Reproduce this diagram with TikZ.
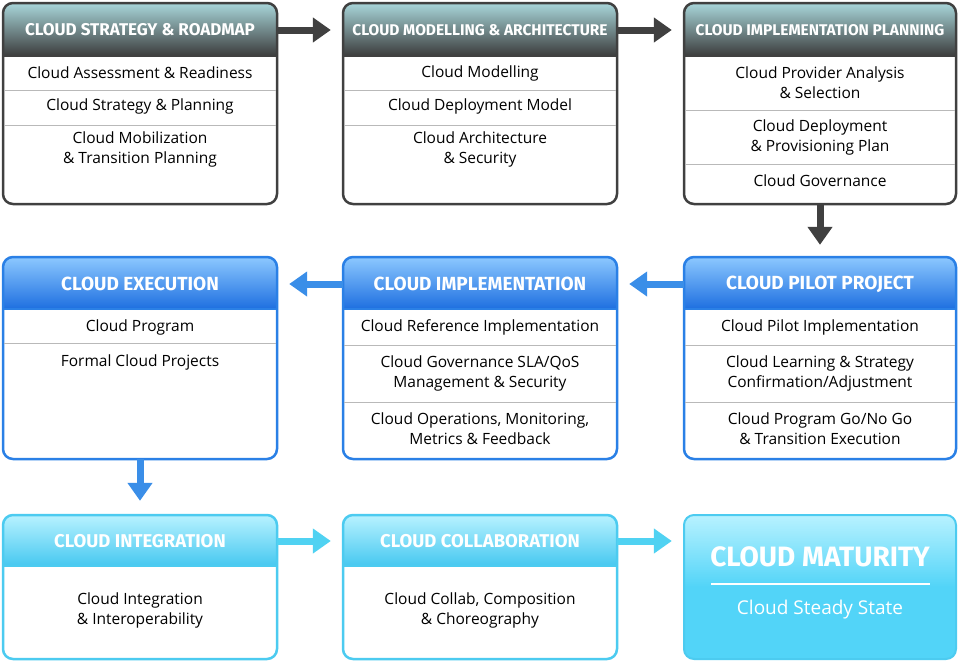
\documentclass[tikz,border=0pt]{standalone}
\usepackage{fontspec}
\setmainfont{Open Sans}
\newfontfamily\hdf{Fira Sans}
\usetikzlibrary{arrows.meta}
\definecolor{gb}{HTML}{404040}
\definecolor{gt}{HTML}{A8D6DA}
\definecolor{gm}{HTML}{3C3C3C}
\definecolor{bb}{HTML}{2A80E6}
\definecolor{bt}{HTML}{8CC8FF}
\definecolor{bm}{HTML}{1E6FE0}
\definecolor{lb}{HTML}{4CCBF0}
\definecolor{lt}{HTML}{B8F2FF}
\definecolor{lm}{HTML}{46C8F0}
\definecolor{lf}{HTML}{52D4F8}
\definecolor{ab}{HTML}{3A8EE8}
\definecolor{al}{HTML}{50D2F2}
\tikzset{
  item/.style={font=\fontsize{15.5}{20}\selectfont, align=center, text=black},
  head/.style={font=\hdf\bfseries\fontsize{17}{18}\selectfont, text=white},
  sep/.style={draw=gray!55, line width=1pt},
  arr/.style={line width=7pt, -{Triangle[width=24pt,length=18pt]}},
  frame/.style={line width=2.5pt, rounded corners=10pt},
}
% \bx{name}{x1}{y1}{x2}{y2}{headbottom}{border}{topcol}{botcol}
\newcommand{\bx}[9]{%
  \begin{scope}
    \clip[rounded corners=10pt] (#2,#3) rectangle (#4,#5);
    \fill[white] (#2,#3) rectangle (#4,#5);
    \shade[top color=#8, bottom color=#9] (#2,#3) rectangle (#4,#6);
  \end{scope}
  \draw[frame, draw=#7] (#2,#3) rectangle (#4,#5);
  \draw[line width=1.5pt, draw=#7] (#2,#6) -- (#4,#6);
  \node[inner sep=0pt, minimum width={(#4-#2)*1pt}, minimum height={(#5-#3)*1pt}] (#1) at ({(#2+#4)/2},{(#3+#5)/2}) {};
}
\begin{document}
\begin{tikzpicture}[x=1pt,y=-1pt]
\fill[white] (0,0) rectangle (960,662);
\useasboundingbox (0,0) rectangle (960,662);
% row 1
\bx{b1}{3}{3}{277}{204}{56}{gb}{gt}{gm}
\bx{b2}{343}{3}{617}{204}{56}{gb}{gt}{gm}
\bx{b3}{684}{3}{956}{204}{56}{gb}{gt}{gm}
\node[head] (h1) at (140,30) {CLOUD STRATEGY \& ROADMAP};
\node[head] (h2) at (480,30) {\fontsize{15.5}{17}\selectfont CLOUD MODELLING \& ARCHITECTURE};
\node[head] (h3) at (820,30) {\fontsize{15.5}{17}\selectfont CLOUD IMPLEMENTATION PLANNING};
\foreach \x/\a/\b in {3/277,343/617}{\draw[sep] (\x+1,90)--(\a-1,90); \draw[sep] (\x+1,125)--(\a-1,125);}
\draw[sep] (685,110)--(955,110); \draw[sep] (685,164)--(955,164);
\node[item] (t11) at (140,73) {Cloud Assessment \& Readiness};
\node[item] (t12) at (140,106) {Cloud Strategy \& Planning};
\node[item] (t13) at (140,149) {Cloud Mobilization\\\& Transition Planning};
\node[item] (t21) at (480,73) {Cloud Modelling};
\node[item] (t22) at (480,106) {Cloud Deployment Model};
\node[item] (t23) at (480,149) {Cloud Architecture\\\& Security};
\node[item] (t31) at (820,83) {Cloud Provider Analysis\\\& Selection};
\node[item] (t32) at (820,137) {Cloud Deployment\\\& Provisioning Plan};
\node[item] (t33) at (820,181) {Cloud Governance};
% row 2
\bx{b4}{3}{257}{277}{459}{309}{bb}{bt}{bm}
\bx{b5}{343}{257}{617}{459}{309}{bb}{bt}{bm}
\bx{b6}{684}{257}{956}{459}{309}{bb}{bt}{bm}
\node[head] (h4) at (140,284) {\fontsize{19}{20}\selectfont CLOUD EXECUTION};
\node[head] (h5) at (480,284) {\fontsize{19}{20}\selectfont CLOUD IMPLEMENTATION};
\node[head] (h6) at (820,284) {\fontsize{19}{20}\selectfont CLOUD PILOT PROJECT};
\draw[sep] (4,343)--(276,343);
\draw[sep] (344,345)--(616,345); \draw[sep] (344,402)--(616,402);
\draw[sep] (685,345)--(955,345); \draw[sep] (685,402)--(955,402);
\node[item] (t41) at (140,327) {Cloud Program};
\node[item] (t42) at (140,362) {Formal Cloud Projects};
\node[item] (t51) at (480,327) {Cloud Reference Implementation};
\node[item] (t52) at (480,373) {Cloud Governance SLA/QoS\\Management \& Security};
\node[item] (t53) at (480,429) {Cloud Operations, Monitoring,\\Metrics \& Feedback};
\node[item] (t61) at (820,327) {Cloud Pilot Implementation};
\node[item] (t62) at (820,373) {Cloud Learning \& Strategy\\Confirmation/Adjustment};
\node[item] (t63) at (820,429) {Cloud Program Go/No Go\\\& Transition Execution};
% row 3
\bx{b7}{3}{515}{277}{659}{566}{lb}{lt}{lm}
\bx{b8}{343}{515}{617}{659}{566}{lb}{lt}{lm}
\node[head] (h7) at (140,541) {\fontsize{18.5}{20}\selectfont CLOUD INTEGRATION};
\node[head] (h8) at (480,541) {\fontsize{18.5}{20}\selectfont CLOUD COLLABORATION};
\node[item] (t71) at (140,610) {Cloud Integration\\\& Interoperability};
\node[item] (t81) at (480,610) {Cloud Collab, Composition\\\& Choreography};
\shade[rounded corners=10pt, top color=lt, bottom color=lf, middle color=lf, draw=lb, line width=2pt] (684,515) rectangle (956,659);
\node[inner sep=0pt, minimum width=272pt, minimum height=144pt] (b9) at (820,587) {};
\node[font=\hdf\bfseries\fontsize{28}{30}\selectfont, text=white] (h9) at (820,557) {CLOUD MATURITY};
\draw[white, line width=1.5pt] (711,584) -- (930,584);
\node[font=\fontsize{19}{21}\selectfont, text=white] (t91) at (820,610) {Cloud Steady State};
% arrows
\draw[arr, gb] (b1.east|-h1) -- ([xshift=-12pt]b2.west|-h1);
\draw[arr, gb] (b2.east|-h2) -- ([xshift=-12pt]b3.west|-h3);
\draw[arr, gb] (b3.south) -- ([yshift=12pt]b6.north);
\draw[arr, ab] (b6.west|-h6) -- ([xshift=12pt]b5.east|-h5);
\draw[arr, ab] (b5.west|-h5) -- ([xshift=12pt]b4.east|-h4);
\draw[arr, ab] (b4.south) -- ([yshift=14pt]b7.north);
\draw[arr, al] (b7.east|-h7) -- ([xshift=-12pt]b8.west|-h8);
\draw[arr, al] (b8.east|-h8) -- ([xshift=-12pt]b9.west|-h8);
\end{tikzpicture}
\end{document}
